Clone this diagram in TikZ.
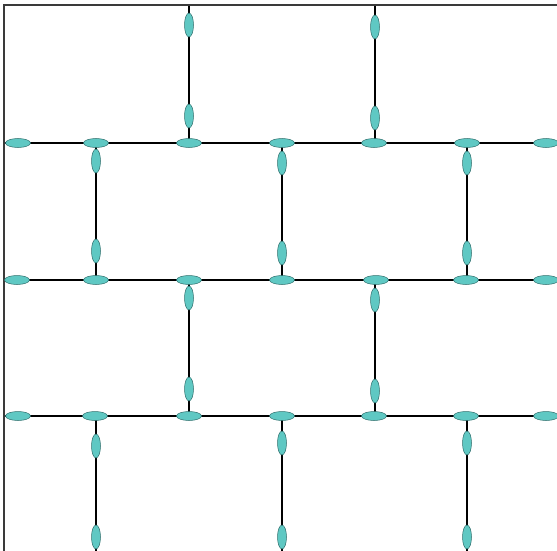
\documentclass[tikz,border=0pt]{standalone}
\usetikzlibrary{shapes.geometric}
\definecolor{cellfill}{HTML}{5FC8C3}
\definecolor{celldraw}{HTML}{2E6E6C}
\definecolor{framecol}{HTML}{3A3A3A}
\begin{document}
\begin{tikzpicture}[x=1pt,y=-1pt,
  wire/.style={black,line width=1.3pt},
  framel/.style={framecol,line width=2pt},
  hcell/.style={ellipse,draw=celldraw,fill=cellfill,line width=0.5pt,minimum width=25pt,minimum height=9pt,inner sep=0pt},
  vcell/.style={ellipse,draw=celldraw,fill=cellfill,line width=0.5pt,minimum width=9pt,minimum height=24pt,inner sep=0pt}]
\useasboundingbox (0,0) rectangle (557,551);
% frame corners
\coordinate (tl) at (4,5);
\coordinate (tr) at (557,5);
\coordinate (bl) at (4,551);
% horizontal wires
\foreach \r/\y in {1/143,2/280,3/416}{
  \coordinate (L\r) at (4,\y);
  \coordinate (R\r) at (557,\y);
  \draw[wire] (L\r) -- (R\r);
}
% vertical wires
\foreach \n/\x/\ya/\yb in {a/189/5/143,b/375/5/143,
  c/96/143/280,d/282/143/280,e/467/143/280,
  f/189/280/416,g/375/280/416,
  h/96/416/551,i/282/416/551,j/467/416/551}{
  \coordinate (T\n) at (\x,\ya);
  \coordinate (B\n) at (\x,\yb);
  \draw[wire] (T\n) -- (B\n);
}
% frame
\draw[framel] (bl) -- (tl) -- (tr);
% horizontal cells
\foreach \x [count=\k] in {18,96,189,282,374,467,546}{
  \node[hcell] (ha\k) at (\x,143) {};
}
\foreach \x [count=\k] in {17,96,189,282,376,466,546}{
  \node[hcell] (hb\k) at (\x,280) {};
}
\foreach \x [count=\k] in {18,95,189,282,374,466,546}{
  \node[hcell] (hc\k) at (\x,416) {};
}
% vertical cells
\foreach \x/\y [count=\k] in {189/25,189/116,375/27,375/118,
  96/161,96/251,282/163,282/253,467/163,467/253,
  189/298,189/389,375/300,375/391,
  96/446,96/537,282/443,282/537,467/443,467/537}{
  \node[vcell] (v\k) at (\x,\y) {};
}
\end{tikzpicture}
\end{document}
